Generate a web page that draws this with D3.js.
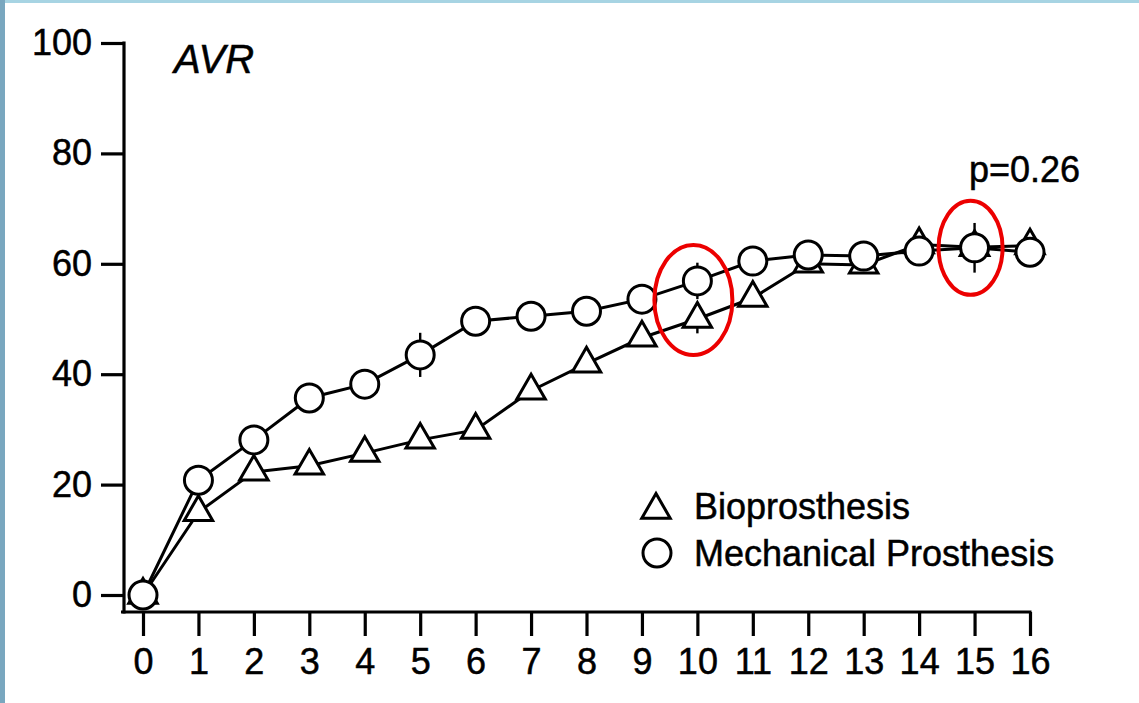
<!DOCTYPE html>
<html>
<head>
<meta charset="utf-8">
<script src="https://cdn.jsdelivr.net/npm/d3@7"></script>
<style>
  html, body { margin: 0; padding: 0; background: #fff; }
  svg { display: block; }
  text { stroke: #000; stroke-width: 0.5px; }
</style>
</head>
<body>
<script>
// values (percent vs years)
const years = [0, 1, 2, 3, 4, 5, 6, 7, 8, 9, 10, 11, 12, 13, 14, 15, 16];
const bio  = [0, 15.0, 22.3, 23.4, 25.7, 28.1, 29.9, 37.0, 41.9, 46.6, 50.0, 53.8, 60.0, 59.8, 63.5, 63.0, 63.3];
const mech = [0, 20.8, 28.1, 35.7, 38.2, 43.5, 49.6, 50.5, 51.4, 53.6, 56.9, 60.5, 61.6, 61.4, 62.3, 62.9, 62.1];
const mechErr = [0, 0, 0, 0, 0, 4, 0, 0, 0, 0, 3.3, 0, 0, 0, 0, 4.5, 0];
const bioErr  = [0, 0, 0, 0, 0, 0, 0, 0, 0, 0, 2.6, 0, 0, 0, 0, 0, 0];
const yTicks = [0, 20, 40, 60, 80, 100];
const legendLabels = ["Bioprosthesis", "Mechanical Prosthesis"];
const highlighted = [10, 15];

const width = 1139, height = 703;
const font = "'Liberation Sans', Arial, sans-serif";

const svg = d3.select("body").append("svg")
    .attr("width", width)
    .attr("height", height)
    .style("font-family", font);

// scanned-slide frame
svg.append("rect").attr("width", width).attr("height", 3).attr("fill", "#a7d4e3");
svg.append("rect").attr("width", 5).attr("height", height).attr("fill", "#79a7bf");

const x = d3.scaleLinear().domain([0, 16]).range([143, 1030]);
const y = d3.scaleLinear().domain([0, 100]).range([595, 43]);

// axes
const yAxisX = 124, xAxisY = 612;

const yAxis = svg.append("g")
    .attr("transform", `translate(${yAxisX},0)`)
    .call(d3.axisLeft(y).tickValues(yTicks).tickSize(23).tickPadding(9));
yAxis.select(".domain").remove();
yAxis.append("line")
    .attr("x1", 0).attr("x2", 0)
    .attr("y1", y(100) - 1.5).attr("y2", xAxisY + 1.5)
    .attr("stroke", "#000").attr("stroke-width", 3.2);
yAxis.selectAll(".tick line").attr("stroke-width", 3.2);
yAxis.selectAll(".tick text")
    .attr("font-size", 36).attr("font-family", font).attr("fill", "#000");

const xAxis = svg.append("g")
    .attr("transform", `translate(0,${xAxisY})`)
    .call(d3.axisBottom(x).tickValues(years).tickSize(24).tickPadding(12));
xAxis.select(".domain").remove();
xAxis.append("line")
    .attr("x1", yAxisX - 3).attr("x2", x(16) + 1.5)
    .attr("y1", 0).attr("y2", 0)
    .attr("stroke", "#000").attr("stroke-width", 3.2);
xAxis.selectAll(".tick line").attr("stroke-width", 3.2);
xAxis.selectAll(".tick text")
    .attr("font-size", 36).attr("font-family", font).attr("fill", "#000");

// lines
const line = d3.line().x((d, i) => x(years[i])).y(d => y(d));

svg.append("path").datum(bio)
    .attr("d", line).attr("fill", "none")
    .attr("stroke", "#000").attr("stroke-width", 3);
svg.append("path").datum(mech)
    .attr("d", line).attr("fill", "none")
    .attr("stroke", "#000").attr("stroke-width", 3);

// error ticks
function errBars(vals, errs) {
  svg.append("g").selectAll("line")
    .data(vals.map((v, i) => ({x: years[i], v, e: errs[i]})).filter(d => d.e > 0))
    .join("line")
      .attr("x1", d => x(d.x)).attr("x2", d => x(d.x))
      .attr("y1", d => y(d.v + d.e)).attr("y2", d => y(d.v - d.e))
      .attr("stroke", "#000").attr("stroke-width", 2.4);
}
errBars(mech, mechErr);
errBars(bio, bioErr);

const tri = d3.symbol(d3.symbolTriangle, 350);

svg.append("g").selectAll("path")
  .data(bio)
  .join("path")
    .attr("d", tri)
    .attr("transform", (d, i) => `translate(${x(years[i])},${y(d)})`)
    .attr("fill", "#fff").attr("stroke", "#000").attr("stroke-width", 3)
    .attr("stroke-linejoin", "miter");

svg.append("g").selectAll("circle")
  .data(mech)
  .join("circle")
    .attr("cx", (d, i) => x(years[i]))
    .attr("cy", d => y(d))
    .attr("r", 14)
    .attr("fill", "#fff").attr("stroke", "#000").attr("stroke-width", 3);

// title and p value
svg.append("text")
    .attr("x", 174).attr("y", 73)
    .attr("font-size", 40).attr("font-style", "italic")
    .text("AVR");

svg.append("text")
    .attr("x", 969).attr("y", 182)
    .attr("font-size", 36)
    .text("p=0.26");

// legend
const legend = svg.append("g");
legend.append("path")
    .attr("d", tri)
    .attr("transform", "translate(656,510)")
    .attr("fill", "#fff").attr("stroke", "#000").attr("stroke-width", 3);
legend.append("circle")
    .attr("cx", 657).attr("cy", 553).attr("r", 14)
    .attr("fill", "#fff").attr("stroke", "#000").attr("stroke-width", 3);
legend.selectAll("text")
  .data(legendLabels)
  .join("text")
    .attr("x", 694)
    .attr("y", (d, i) => 519 + i * 47)
    .attr("font-size", 36)
    .text(d => d);

// red highlight ellipses
svg.append("g").selectAll("ellipse")
  .data(highlighted)
  .join("ellipse")
    .attr("cx", d => x(d) - 4)
    .attr("cy", d => d === 10 ? (y(mech[10]) + y(bio[10])) / 2 : y(mech[d]))
    .attr("rx", d => d === 10 ? 39 : 32)
    .attr("ry", d => d === 10 ? 55 : 47)
    .attr("fill", "none")
    .attr("stroke", "#ec0000").attr("stroke-width", 4)
    .style("stroke-width", 4);
</script>
</body>
</html>
